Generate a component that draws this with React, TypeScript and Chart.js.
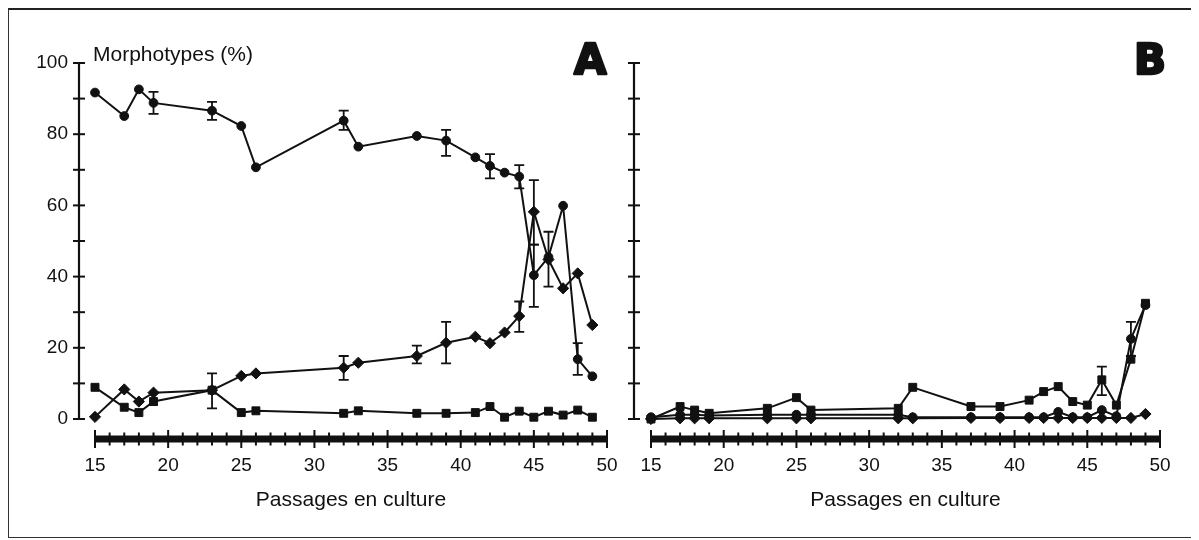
import React, { useEffect, useRef } from "react";
import { Chart, registerables } from "chart.js";
Chart.register(...registerables);

// ---- data ----
const passages = [15, 17, 18, 19, 23, 25, 26, 32, 33, 37, 39, 41, 42, 43, 44, 45, 46, 47, 48, 49];

// Panel A
const circlesA = [91.7, 85.1, 92.6, 88.8, 86.6, 82.3, 70.7, 83.8, 76.5, 79.5, 78.2, 73.5, 71.1, 69.2, 68.1, 40.4, 45.5, 59.9, 16.8, 12];
const circlesALow = [null, null, null, 85.7, 84, null, null, 81.2, null, null, 73.9, null, 67.6, null, 64.8, 31.5, null, null, 12.4, null];
const circlesAHigh = [null, null, null, 91.9, 89.1, null, null, 86.6, null, null, 81.2, null, 74.4, null, 71.3, 49, null, null, 21.3, null];

const diamondsA = [0.6, 8.3, 4.9, 7.4, 8.1, 12.1, 12.8, 14.4, 15.8, 17.7, 21.4, 23.1, 21.3, 24.3, 28.9, 58.2, 44.8, 36.7, 40.9, 26.4];
const diamondsALow = [null, null, null, null, null, null, null, 11, null, 15.6, 15.6, null, null, null, 24.5, 49, 37.2, null, null, null];
const diamondsAHigh = [null, null, null, null, null, null, null, 17.7, null, 20.6, 27.3, null, null, null, 33, 67.1, 52.6, null, null, null];

const squaresA = [8.9, 3.3, 1.8, 4.9, 8.1, 1.8, 2.3, 1.6, 2.3, 1.6, 1.6, 1.8, 3.5, 0.5, 2.2, 0.5, 2.2, 1.1, 2.5, 0.5];
const squaresALow = [null, null, null, null, 3, null, null, null, null, null, null, null, null, null, null, null, null, null, null, null];
const squaresAHigh = [null, null, null, null, 12.8, null, null, null, null, null, null, null, null, null, null, null, null, null, null, null];

// Panel B
const circlesB = [0.5, 1.2, 1.2, 1, 1.2, 1.2, 1.2, 1.2, 0.5, 0.5, 0.5, 0.5, 0.5, 2, 0.5, 0.5, 2.5, 0.8, 22.5, 32];
const circlesBLow = [null, null, null, null, null, null, null, null, null, null, null, null, null, null, null, null, null, null, 17.7, null];
const circlesBHigh = [null, null, null, null, null, null, null, null, null, null, null, null, null, null, null, null, null, null, 27.3, null];

const diamondsB = [0, 0.2, 0.2, 0.2, 0.2, 0.2, 0.2, 0.2, 0.2, 0.3, 0.3, 0.3, 0.3, 0.3, 0.3, 0.3, 0.3, 0.3, 0.3, 1.4];

const squaresB = [0, 3.5, 2.5, 1.6, 3, 6, 2.5, 3, 8.9, 3.5, 3.5, 5.3, 7.7, 9.1, 4.9, 3.9, 11, 3.9, 16.8, 32.5];
const squaresBLow = [null, null, null, null, null, null, null, null, null, null, null, null, null, null, null, null, 6.7, null, null, null];
const squaresBHigh = [null, null, null, null, null, null, null, null, null, null, null, null, null, null, null, null, 14.7, null, null, null];

const yAxisTicks = [0, 10, 20, 30, 40, 50, 60, 70, 80, 90, 100];
const xAxisMin = 15;
const xAxisMax = 50;
const yTitle = "Morphotypes (%)";
const xTitle = "Passages en culture";

const INK = "#111111";
const FONT = "'Liberation Sans', Arial, Helvetica, sans-serif";

type Num = number | null;
type Panel = {
  circles: number[];
  diamonds: number[];
  squares: number[];
  errors: { lo: Num[]; hi: Num[] }[];
  letter: string;
  letterX: number;
  showYLabels: boolean;
  showYTitle: boolean;
  yWidth: number;
  padRight: number;
  yAxisOffset: number;
};

function toPoints(vals: number[]) {
  return vals.map((v, i) => ({ x: passages[i], y: v }));
}

function makeChart(canvas: HTMLCanvasElement, p: Panel) {
  const decor = {
    id: "decor",
    beforeDatasetsDraw(chart: any) {
      const ctx = chart.ctx;
      const xs = chart.scales.x;
      const ys = chart.scales.y;
      const ca = chart.chartArea;
      ctx.save();
      ctx.strokeStyle = INK;
      ctx.fillStyle = INK;
      // y axis
      const ax = ca.left - p.yAxisOffset;
      ctx.lineWidth = 2.2;
      ctx.beginPath();
      ctx.moveTo(ax, ys.getPixelForValue(0) + 1);
      ctx.lineTo(ax, ys.getPixelForValue(100) - 1);
      ctx.stroke();
      ctx.lineWidth = 2;
      yAxisTicks.forEach((v) => {
        const py = ys.getPixelForValue(v);
        ctx.beginPath();
        ctx.moveTo(ax - 6, py);
        ctx.lineTo(ax + 6, py);
        ctx.stroke();
      });
      // x axis thick bar
      const by = ca.bottom + 20;
      const x0 = xs.getPixelForValue(xAxisMin);
      const x1 = xs.getPixelForValue(xAxisMax);
      ctx.fillRect(x0, by - 3.5, x1 - x0, 7);
      ctx.lineWidth = 2;
      for (let v = xAxisMin; v <= xAxisMax; v++) {
        const px = xs.getPixelForValue(v);
        const len = v % 5 === 0 ? 9 : 6.5;
        ctx.beginPath();
        ctx.moveTo(px, by - len);
        ctx.lineTo(px, by + len);
        ctx.stroke();
      }
      // error bars
      ctx.lineWidth = 1.8;
      p.errors.forEach((e) => {
        e.lo.forEach((lo, i) => {
          const hi = e.hi[i];
          if (lo == null || hi == null) return;
          const px = xs.getPixelForValue(passages[i]);
          const pl = ys.getPixelForValue(lo);
          const ph = ys.getPixelForValue(hi);
          ctx.beginPath();
          ctx.moveTo(px, pl);
          ctx.lineTo(px, ph);
          ctx.moveTo(px - 5, pl);
          ctx.lineTo(px + 5, pl);
          ctx.moveTo(px - 5, ph);
          ctx.lineTo(px + 5, ph);
          ctx.stroke();
        });
      });
      ctx.restore();
    },
    afterDraw(chart: any) {
      const ctx = chart.ctx;
      const ca = chart.chartArea;
      ctx.save();
      ctx.fillStyle = INK;
      ctx.strokeStyle = INK;
      if (p.showYTitle) {
        ctx.font = `21px ${FONT}`;
        ctx.textAlign = "left";
        ctx.textBaseline = "middle";
        ctx.fillText(yTitle, ca.left - 2, 47);
      }
      ctx.font = `bold 42px 'DejaVu Sans', ${FONT}`;
      ctx.textAlign = "left";
      ctx.textBaseline = "alphabetic";
      ctx.lineWidth = 2.5;
      ctx.lineJoin = "round";
      ctx.fillText(p.letter, p.letterX + 1, 66);
      ctx.strokeText(p.letter, p.letterX + 1, 66);
      ctx.font = `21px ${FONT}`;
      ctx.textAlign = "center";
      ctx.textBaseline = "middle";
      ctx.fillText(xTitle, (ca.left + ca.right) / 2, 492);
      ctx.restore();
    },
  };

  const ds = (vals: number[], style: string, radius: number) => ({
    data: toPoints(vals),
    borderColor: INK,
    backgroundColor: INK,
    borderWidth: 2,
    pointStyle: style,
    pointRadius: radius,
    pointBorderWidth: 1,
    pointBackgroundColor: INK,
    pointBorderColor: INK,
    tension: 0,
    clip: false,
  });

  return new Chart(canvas, {
    type: "line",
    data: {
      datasets: [
        ds(p.circles, "circle", 4.4),
        ds(p.diamonds, "rectRot", 5.6),
        ds(p.squares, "rect", 5.6),
      ] as any,
    },
    options: {
      animation: false,
      responsive: false,
      devicePixelRatio: 1,
      layout: { padding: { top: 55, right: p.padRight, left: 0, bottom: 0 } },
      plugins: { legend: { display: false }, tooltip: { enabled: false }, title: { display: false } },
      scales: {
        x: {
          type: "linear",
          min: xAxisMin,
          max: xAxisMax,
          border: { display: false },
          grid: { display: false, drawTicks: false },
          ticks: { stepSize: 5, padding: 35, color: INK, font: { family: FONT, size: 19 }, maxRotation: 0 },
          afterFit: (s: any) => {
            s.height = 113;
            s.paddingLeft = 0;
            s.paddingRight = 0;
          },
        },
        y: {
          type: "linear",
          min: 0,
          max: 100,
          border: { display: false },
          grid: { display: false, drawTicks: false },
          ticks: { display: p.showYLabels, stepSize: 20, padding: 27, color: INK, font: { family: FONT, size: 19 } },
          afterFit: (s: any) => {
            s.width = p.yWidth;
            s.paddingTop = 0;
            s.paddingBottom = 0;
          },
        },
      },
    } as any,
    plugins: [decor],
  });
}

function PanelChart({ panel, left, width }: { panel: Panel; left: number; width: number }) {
  const ref = useRef<HTMLCanvasElement | null>(null);
  useEffect(() => {
    if (!ref.current) return;
    const c = makeChart(ref.current, panel);
    return () => c.destroy();
  }, []);
  return (
    <canvas
      ref={ref}
      width={width}
      height={524}
      style={{ position: "absolute", left, top: 0, width, height: 524 }}
    />
  );
}

const panelA: Panel = {
  circles: circlesA,
  diamonds: diamondsA,
  squares: squaresA,
  errors: [
    { lo: circlesALow, hi: circlesAHigh },
    { lo: diamondsALow, hi: diamondsAHigh },
    { lo: squaresALow, hi: squaresAHigh },
  ],
  letter: "A",
  letterX: 565,
  showYLabels: true,
  showYTitle: true,
  yWidth: 87,
  padRight: 13,
  yAxisOffset: 16,
};

const panelB: Panel = {
  circles: circlesB,
  diamonds: diamondsB,
  squares: squaresB,
  errors: [
    { lo: circlesBLow, hi: circlesBHigh },
    { lo: squaresBLow, hi: squaresBHigh },
  ],
  letter: "B",
  letterX: 513,
  showYLabels: false,
  showYTitle: false,
  yWidth: 31,
  padRight: 31,
  yAxisOffset: 17,
};

export default function App() {
  return (
    <div style={{ position: "relative", width: 1189, height: 530, background: "#fff" }}>
      <div
        style={{
          position: "absolute",
          left: 0,
          top: 0,
          right: 0,
          bottom: 0,
          borderTop: "2px solid #222",
          borderLeft: "1px solid #333",
          borderRight: "1px solid #333",
          borderBottom: "1px solid #333",
          boxSizing: "border-box",
        }}
      />
      <PanelChart panel={panelA} left={0} width={612} />
      <PanelChart panel={panelB} left={612} width={571} />
    </div>
  );
}
